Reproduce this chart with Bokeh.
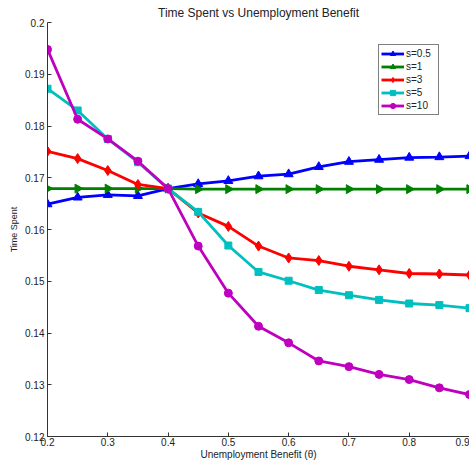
import math
from bokeh.plotting import figure
from bokeh.models import FixedTicker, Legend, LegendItem, Range1d
from bokeh.embed import file_html
from bokeh.resources import INLINE

theta = [0.2, 0.25, 0.3, 0.35, 0.4, 0.45, 0.5, 0.55, 0.6, 0.65, 0.7, 0.75, 0.8, 0.85, 0.9]
s_05 = [0.1649, 0.1662, 0.1667, 0.1665, 0.1679, 0.1688, 0.1694, 0.1703, 0.1707, 0.1721, 0.1731, 0.1735, 0.1739, 0.1740, 0.1742]
s_1 = [0.1679, 0.1679, 0.1679, 0.1679, 0.1679, 0.1678, 0.1678, 0.1678, 0.1678, 0.1678, 0.1678, 0.1678, 0.1678, 0.1678, 0.1678]
s_3 = [0.1751, 0.1737, 0.1714, 0.1687, 0.1679, 0.1632, 0.1606, 0.1568, 0.1545, 0.1540, 0.1529, 0.1522, 0.1515, 0.1514, 0.1512]
s_5 = [0.1872, 0.1830, 0.1775, 0.1730, 0.1679, 0.1634, 0.1569, 0.1518, 0.1501, 0.1483, 0.1473, 0.1464, 0.1457, 0.1454, 0.1448]
s_10 = [0.1948, 0.1813, 0.1775, 0.1732, 0.1679, 0.1568, 0.1477, 0.1413, 0.1381, 0.1346, 0.1335, 0.1320, 0.1310, 0.1294, 0.1281]

x_ticks = [0.2, 0.3, 0.4, 0.5, 0.6, 0.7, 0.8, 0.9]
x_tick_labels = ["0.2", "0.3", "0.4", "0.5", "0.6", "0.7", "0.8", "0.9"]
y_ticks = [0.12, 0.13, 0.14, 0.15, 0.16, 0.17, 0.18, 0.19, 0.2]
y_tick_labels = ["0.12", "0.13", "0.14", "0.15", "0.16", "0.17", "0.18", "0.19", "0.2"]

series_names = ["s=0.5", "s=1", "s=3", "s=5", "s=10"]
series_vals = [s_05, s_1, s_3, s_5, s_10]
colors = ["#0000FF", "#008000", "#FF0000", "#00BFBF", "#BF00BF"]
markers = ["triangle", "triangle", "diamond", "square", "circle"]
angles = [0, -math.pi / 2, 0, 0, 0]
msizes = [9, 9, 10, 7, 8]

FONT = "Liberation Sans"

p = figure(width=469, height=462, output_backend="svg", toolbar_location=None,
           x_range=Range1d(0.2, 0.9), y_range=Range1d(0.12, 0.2),
           title="Time Spent vs Unemployment Benefit",
           min_border_left=47, min_border_right=0, min_border_top=0, min_border_bottom=0)
p.title.align = "center"
p.title.text_font = FONT
p.title.text_font_size = "12px"
p.title.text_font_style = "normal"
p.title.text_color = "#222222"
p.title.standoff = 6
p.title.offset = 0

p.grid.visible = False
p.outline_line_color = None

for ax in (p.xaxis, p.yaxis):
    ax.axis_line_color = "#333333"
    ax.major_tick_line_color = "#333333"
    ax.major_tick_in = 4
    ax.major_tick_out = 0
    ax.minor_tick_line_color = None
    ax.major_label_text_font = FONT
    ax.major_label_text_font_size = "10px"
    ax.major_label_text_color = "#222222"
    ax.axis_label_text_font = FONT
    ax.axis_label_text_font_style = "normal"
    ax.axis_label_text_color = "#222222"

p.xaxis.ticker = FixedTicker(ticks=x_ticks)
p.xaxis.major_label_overrides = dict(zip(x_ticks, x_tick_labels))
p.yaxis.ticker = FixedTicker(ticks=y_ticks)
p.yaxis.major_label_overrides = dict(zip(y_ticks, y_tick_labels))
p.xaxis.axis_label = "Unemployment Benefit (\u03b8)"
p.yaxis.axis_label = "Time Spent"
p.xaxis.axis_label_text_font_size = "10px"
p.yaxis.axis_label_text_font_size = "9px"
p.xaxis.major_label_standoff = 1
p.xaxis.axis_label_standoff = 0
p.yaxis.major_label_standoff = 3
p.yaxis.axis_label_standoff = 3

items = []
for name, vals, c, m, a, ms in zip(series_names, series_vals, colors, markers, angles, msizes):
    r1 = p.line(theta, vals, line_color=c, line_width=2.8)
    r2 = p.scatter(theta, vals, marker=m, angle=a, size=ms, fill_color=c, line_color=c)
    items.append(LegendItem(label=name, renderers=[r1, r2]))

legend = Legend(items=items)
legend.label_text_font = FONT
legend.label_text_font_size = "10px"
legend.label_text_color = "#222222"
legend.border_line_color = "black"
legend.border_line_width = 1
legend.padding = 2
legend.spacing = 0
legend.glyph_width = 23
legend.glyph_height = 13
legend.label_height = 13
legend.label_width = 30
legend.label_standoff = 2
legend.margin = 0
legend.label_text_line_height = 1.0
p.add_layout(legend)
legend.location = (331, 321)

open("out.html", "w").write(file_html(p, INLINE))
